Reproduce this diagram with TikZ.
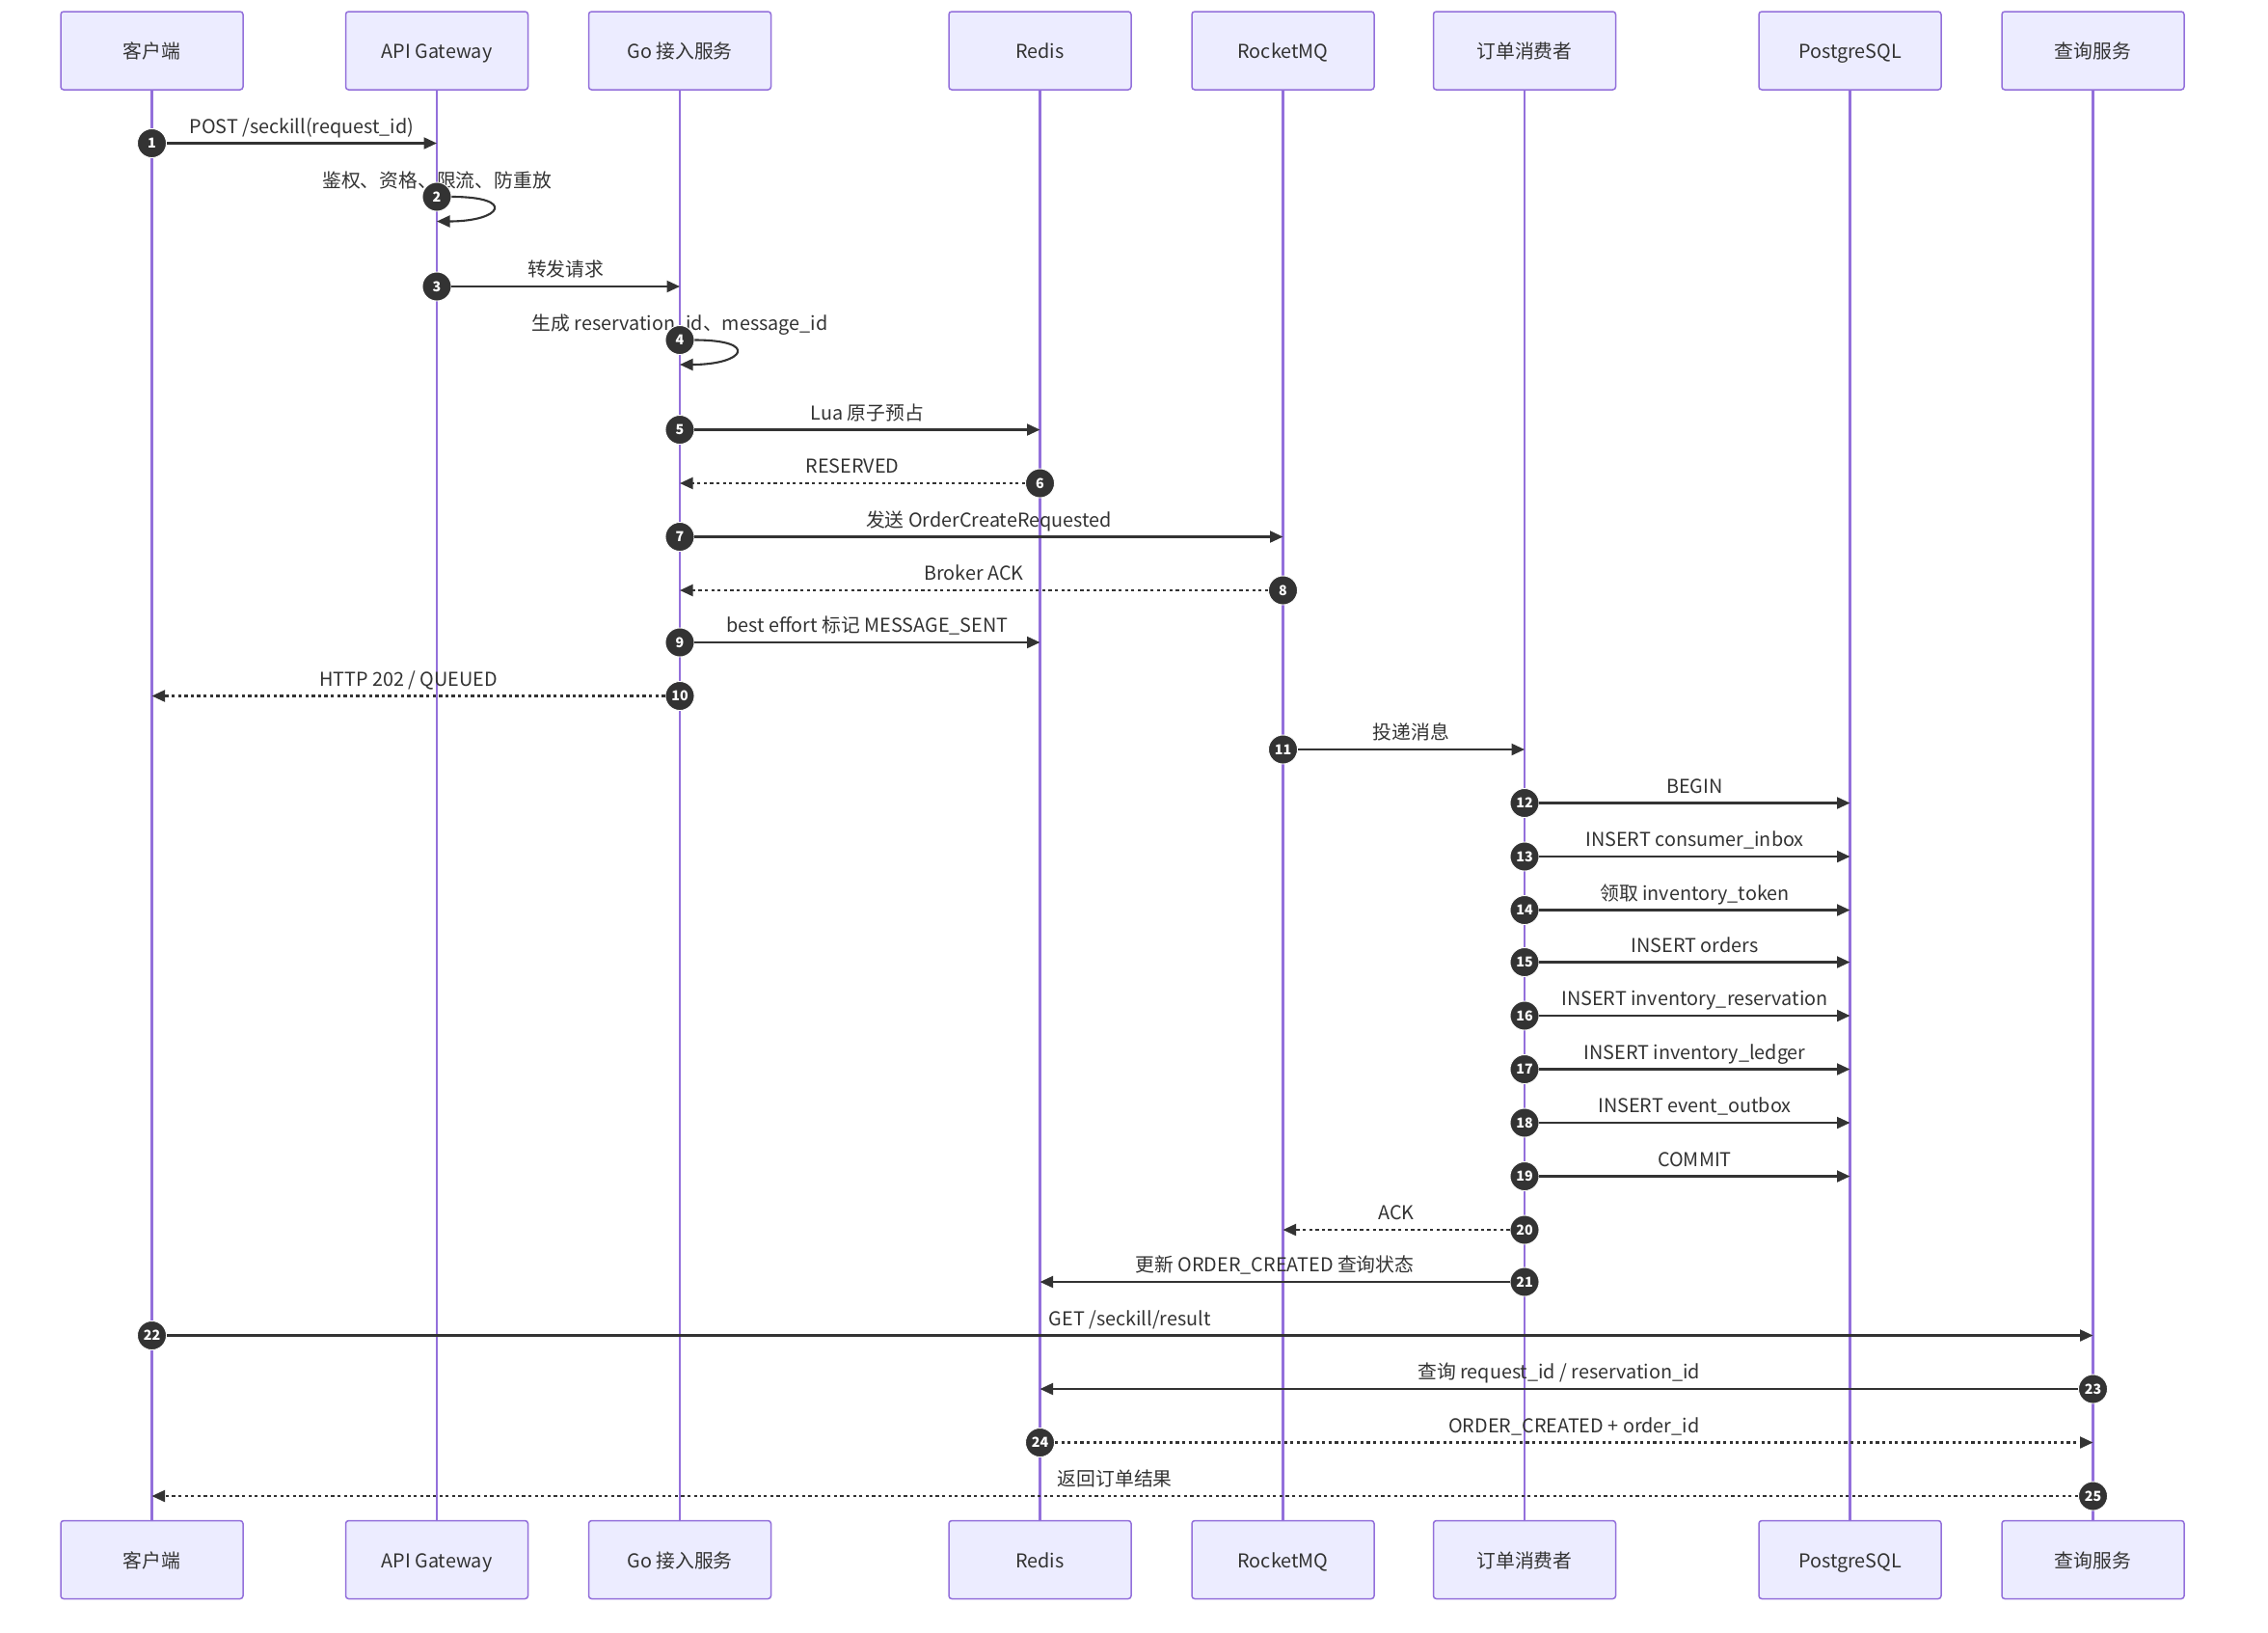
\documentclass[tikz,border=0pt]{standalone}
\usepackage{fontspec}
\setmainfont{Noto Sans CJK SC}
\usetikzlibrary{arrows.meta,calc}
\definecolor{boxfill}{HTML}{ECECFF}
\definecolor{boxline}{HTML}{9370DB}
\definecolor{ink}{HTML}{333333}
\begin{document}
\begin{tikzpicture}[x=1pt,y=-1pt,
    actor/.style={draw=boxline,fill=boxfill,line width=1pt,rounded corners=2pt,
      minimum width=126pt,minimum height=54pt,font=\fontsize{13.2}{16}\selectfont,text=ink,
      text height=13pt,text depth=2pt},
    life/.style={draw=boxline,line width=1.5pt},
    num/.style={circle,fill=ink,draw=white,line width=0.6pt,minimum size=20pt,inner sep=0pt,
      text=white,font=\fontsize{9.5}{10}\selectfont\bfseries},
    msg/.style={draw=ink,line width=1.4pt,-{Triangle[length=9pt,width=8pt]}},
    ret/.style={msg,dash pattern=on 2.2pt off 2.2pt},
    lbl/.style={font=\fontsize{13.2}{16}\selectfont,text=ink,inner sep=0pt,
      text height=10pt,text depth=3pt},
    txt/.style={lbl,midway,yshift=10.5pt}]
  \useasboundingbox (0,0) rectangle (1568,1128);
  % participants, top
  \node[actor] (cli) at (105,35) {客户端};
  \node[actor] (gw) at (302,35) {API Gateway};
  \node[actor] (go) at (470,35) {Go 接入服务};
  \node[actor] (rds) at (719,35) {Redis};
  \node[actor] (mq) at (887,35) {RocketMQ};
  \node[actor] (cons) at (1054,35) {订单消费者};
  \node[actor] (pg) at (1279,35) {PostgreSQL};
  \node[actor] (qry) at (1447,35) {查询服务};
  % participants, bottom
  \node[actor] (cliB) at (105,1078) {客户端};
  \node[actor] (gwB) at (302,1078) {API Gateway};
  \node[actor] (goB) at (470,1078) {Go 接入服务};
  \node[actor] (rdsB) at (719,1078) {Redis};
  \node[actor] (mqB) at (887,1078) {RocketMQ};
  \node[actor] (consB) at (1054,1078) {订单消费者};
  \node[actor] (pgB) at (1279,1078) {PostgreSQL};
  \node[actor] (qryB) at (1447,1078) {查询服务};
  % lifelines
  \draw[life] (cli) -- (cliB);
  \draw[life] (gw) -- (gwB);
  \draw[life] (go) -- (goB);
  \draw[life] (rds) -- (rdsB);
  \draw[life] (mq) -- (mqB);
  \draw[life] (cons) -- (consB);
  \draw[life] (pg) -- (pgB);
  \draw[life] (qry) -- (qryB);
  % request path
  \node[num] (n1) at (cli |- 0,99) {1};
  \draw[msg] (n1) -- (gw |- n1) node[txt] {POST /seckill(request\_id)};
  \node[lbl] (t2) at (302,126) {鉴权、资格、限流、防重放};
  \node[num] (n2) at (gw |- 0,136) {2};
  \draw[msg] (n2.east) .. controls +(45,0) and +(45,0) .. ($(n2)+(0,17)$);
  \node[num] (n3) at (gw |- 0,198) {3};
  \draw[msg] (n3) -- (go |- n3) node[txt] {转发请求};
  \node[lbl] (t4) at (470,225) {生成 reservation\_id、message\_id};
  \node[num] (n4) at (go |- 0,235) {4};
  \draw[msg] (n4.east) .. controls +(45,0) and +(45,0) .. ($(n4)+(0,17)$);
  \node[num] (n5) at (go |- 0,297) {5};
  \draw[msg] (n5) -- (rds |- n5) node[txt] {Lua 原子预占};
  \node[num] (n6) at (rds |- 0,334) {6};
  \draw[ret] (n6) -- (go |- n6) node[txt] {RESERVED};
  \node[num] (n7) at (go |- 0,371) {7};
  \draw[msg] (n7) -- (mq |- n7) node[txt] {发送 OrderCreateRequested};
  \node[num] (n8) at (mq |- 0,408) {8};
  \draw[ret] (n8) -- (go |- n8) node[txt] {Broker ACK};
  \node[num] (n9) at (go |- 0,444) {9};
  \draw[msg] (n9) -- (rds |- n9) node[txt] {best effort 标记 MESSAGE\_SENT};
  \node[num] (n10) at (go |- 0,481) {10};
  \draw[ret] (n10) -- (cli |- n10) node[txt] {HTTP 202 / QUEUED};
  % consumer
  \node[num] (n11) at (mq |- 0,518) {11};
  \draw[msg] (n11) -- (cons |- n11) node[txt] {投递消息};
  \node[num] (n12) at (cons |- 0,555) {12};
  \draw[msg] (n12) -- (pg |- n12) node[txt] {BEGIN};
  \node[num] (n13) at (cons |- 0,592) {13};
  \draw[msg] (n13) -- (pg |- n13) node[txt] {INSERT consumer\_inbox};
  \node[num] (n14) at (cons |- 0,629) {14};
  \draw[msg] (n14) -- (pg |- n14) node[txt] {领取 inventory\_token};
  \node[num] (n15) at (cons |- 0,665) {15};
  \draw[msg] (n15) -- (pg |- n15) node[txt] {INSERT orders};
  \node[num] (n16) at (cons |- 0,702) {16};
  \draw[msg] (n16) -- (pg |- n16) node[txt] {INSERT inventory\_reservation};
  \node[num] (n17) at (cons |- 0,739) {17};
  \draw[msg] (n17) -- (pg |- n17) node[txt] {INSERT inventory\_ledger};
  \node[num] (n18) at (cons |- 0,776) {18};
  \draw[msg] (n18) -- (pg |- n18) node[txt] {INSERT event\_outbox};
  \node[num] (n19) at (cons |- 0,813) {19};
  \draw[msg] (n19) -- (pg |- n19) node[txt] {COMMIT};
  \node[num] (n20) at (cons |- 0,850) {20};
  \draw[ret] (n20) -- (mq |- n20) node[txt] {ACK};
  \node[num] (n21) at (cons |- 0,886) {21};
  \draw[msg] (n21) -- (rds |- n21) node[txt] {更新 ORDER\_CREATED 查询状态};
  % result query
  \node[num] (n22) at (cli |- 0,923) {22};
  \draw[msg] (n22) -- (qry |- n22) node[txt] {GET /seckill/result};
  \node[num] (n23) at (qry |- 0,960) {23};
  \draw[msg] (n23) -- (rds |- n23) node[txt] {查询 request\_id / reservation\_id};
  \node[num] (n24) at (rds |- 0,997) {24};
  \draw[ret] (n24) -- (qry |- n24) node[txt] {ORDER\_CREATED + order\_id};
  \node[num] (n25) at (qry |- 0,1034) {25};
  \draw[ret] (n25) -- (cli |- n25) node[txt] {返回订单结果};
\end{tikzpicture}
\end{document}
